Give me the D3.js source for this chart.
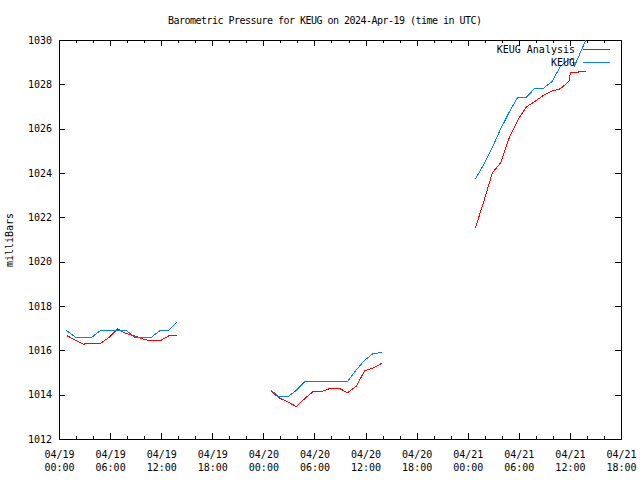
<!DOCTYPE html>
<html><head><meta charset="utf-8">
<script src="https://cdn.jsdelivr.net/npm/d3@7"></script>
<style>
body{margin:0;background:#fff}
svg{display:block;background:#fff}
text{font-family:"DejaVu Sans Mono",monospace;font-size:10px;fill:#000}
</style>
</head><body><svg id="c" width="640" height="480"></svg>
<script>
const title = "Barometric Pressure for KEUG on 2024-Apr-19 (time in UTC)";
const yLabel = "milliBars";
const seriesNames = ["KEUG Analysis", "KEUG"];
const seriesColors = ["#ff0000", "#0080ff"];

const yTicks = [1012, 1014, 1016, 1018, 1020, 1022, 1024, 1026, 1028, 1030];
const xTickTimes = ["2024-04-19T00:00Z","2024-04-19T06:00Z","2024-04-19T12:00Z","2024-04-19T18:00Z",
  "2024-04-20T00:00Z","2024-04-20T06:00Z","2024-04-20T12:00Z","2024-04-20T18:00Z",
  "2024-04-21T00:00Z","2024-04-21T06:00Z","2024-04-21T12:00Z","2024-04-21T18:00Z"];
const xTickDates = ["04/19","04/19","04/19","04/19","04/20","04/20","04/20","04/20","04/21","04/21","04/21","04/21"];
const xTickHours = ["00:00","06:00","12:00","18:00","00:00","06:00","12:00","18:00","00:00","06:00","12:00","18:00"];

// KEUG Analysis (red); null = gap between segments
const analysisTimes = [
  "2024-04-19T00:53Z","2024-04-19T01:53Z","2024-04-19T02:53Z","2024-04-19T03:53Z","2024-04-19T04:53Z","2024-04-19T05:53Z","2024-04-19T06:53Z",
  "2024-04-19T07:53Z","2024-04-19T08:53Z","2024-04-19T09:53Z","2024-04-19T10:53Z","2024-04-19T11:53Z","2024-04-19T12:53Z","2024-04-19T13:53Z",
  "2024-04-19T18:00Z",
  "2024-04-20T00:53Z","2024-04-20T01:53Z","2024-04-20T02:53Z","2024-04-20T03:53Z","2024-04-20T04:53Z","2024-04-20T05:53Z","2024-04-20T06:53Z",
  "2024-04-20T07:53Z","2024-04-20T08:53Z","2024-04-20T09:53Z","2024-04-20T10:53Z","2024-04-20T11:53Z","2024-04-20T12:53Z","2024-04-20T13:53Z",
  "2024-04-20T18:00Z",
  "2024-04-21T00:53Z","2024-04-21T01:53Z","2024-04-21T02:53Z","2024-04-21T03:53Z","2024-04-21T04:53Z","2024-04-21T05:53Z","2024-04-21T06:53Z",
  "2024-04-21T07:53Z","2024-04-21T08:53Z","2024-04-21T09:53Z","2024-04-21T10:53Z","2024-04-21T11:53Z","2024-04-21T12:05Z","2024-04-21T12:53Z","2024-04-21T13:53Z"];
const analysisValues = [
  1016.67,1016.47,1016.28,1016.33,1016.32,1016.58,1016.96,1016.76,1016.65,1016.51,1016.42,1016.43,1016.65,1016.65,
  null,
  1014.15,1013.85,1013.67,1013.46,1013.83,1014.15,1014.14,1014.29,1014.29,1014.09,1014.37,1015.07,1015.20,1015.41,
  null,
  1021.50,1022.71,1024.00,1024.47,1025.60,1026.39,1026.98,1027.23,1027.50,1027.70,1027.80,1028.13,1028.55,1028.55,1028.60];

// KEUG observations (blue)
const keugTimes = [
  "2024-04-19T00:53Z","2024-04-19T01:53Z","2024-04-19T02:53Z","2024-04-19T03:53Z","2024-04-19T04:53Z","2024-04-19T05:53Z","2024-04-19T06:53Z",
  "2024-04-19T07:53Z","2024-04-19T08:53Z","2024-04-19T09:53Z","2024-04-19T10:53Z","2024-04-19T11:53Z","2024-04-19T12:53Z","2024-04-19T13:53Z",
  "2024-04-19T18:00Z",
  "2024-04-20T00:53Z","2024-04-20T01:53Z","2024-04-20T02:53Z","2024-04-20T03:53Z","2024-04-20T04:53Z","2024-04-20T05:53Z","2024-04-20T06:53Z",
  "2024-04-20T07:53Z","2024-04-20T08:53Z","2024-04-20T09:53Z","2024-04-20T10:53Z","2024-04-20T11:53Z","2024-04-20T12:53Z","2024-04-20T13:53Z",
  "2024-04-20T18:00Z",
  "2024-04-21T00:53Z","2024-04-21T01:53Z","2024-04-21T02:53Z","2024-04-21T03:53Z","2024-04-21T04:53Z","2024-04-21T05:53Z","2024-04-21T06:53Z",
  "2024-04-21T07:53Z","2024-04-21T08:53Z","2024-04-21T09:53Z","2024-04-21T10:53Z","2024-04-21T11:53Z","2024-04-21T12:25Z","2024-04-21T12:30Z","2024-04-21T13:53Z"];
const keugValues = [
  1016.9,1016.6,1016.6,1016.6,1016.9,1016.9,1016.9,1016.9,1016.6,1016.6,1016.6,1016.9,1016.9,1017.3,
  null,
  1014.2,1013.9,1013.9,1014.2,1014.6,1014.6,1014.6,1014.6,1014.6,1014.6,1015.1,1015.55,1015.85,1015.9,
  null,
  1023.72,1024.39,1025.15,1026.0,1026.75,1027.42,1027.42,1027.82,1027.82,1028.12,1028.8,1029.14,1029.14,1028.8,1030.0];

const svg = d3.select("#c");
const L = 59, R = 621, T = 40, B = 439;
const x = d3.scaleUtc().domain([new Date(xTickTimes[0]), new Date(xTickTimes[xTickTimes.length-1])]).range([L, R]);
const y = d3.scaleLinear().domain([yTicks[0], yTicks[yTicks.length-1]]).range([B, T]);

svg.append("defs").append("clipPath").attr("id","clip")
  .append("rect").attr("x", L).attr("y", T).attr("width", R-L).attr("height", B-T);

const majorTicks = xTickTimes.map(s => new Date(s));
const minorTicks = d3.utcHour.every(2).range(x.domain()[0], x.domain()[1]).filter(d => d.getUTCHours() % 6 !== 0);

function styleAxis(g){ g.select(".domain").remove(); g.selectAll("line").attr("stroke","#000").attr("shape-rendering","crispEdges"); }

// left axis
svg.append("g").attr("transform",`translate(${L},0)`)
  .call(d3.axisLeft(y).tickValues(yTicks).tickSize(-6).tickPadding(7).tickFormat(d3.format("d")))
  .call(styleAxis).call(g => g.selectAll("text").attr("font-size",null).attr("font-family",null));
// right axis
svg.append("g").attr("transform",`translate(${R},0)`)
  .call(d3.axisRight(y).tickValues(yTicks).tickSize(-6).tickFormat(""))
  .call(styleAxis);
// bottom axis
const bottom = svg.append("g").attr("transform",`translate(0,${B})`)
  .call(d3.axisBottom(x).tickValues(majorTicks).tickSize(-6).tickPadding(10).tickFormat(""))
  .call(styleAxis);
bottom.selectAll(".tick").each(function(d, i){
  const t = d3.select(this).append("text").attr("text-anchor","middle").attr("fill","#000");
  t.append("tspan").attr("x",0).attr("y",19).text(xTickDates[i]);
  t.append("tspan").attr("x",0).attr("y",32).text(xTickHours[i]);
});
svg.append("g").attr("transform",`translate(0,${B})`)
  .call(d3.axisBottom(x).tickValues(minorTicks).tickSize(-3).tickFormat(""))
  .call(styleAxis);
// top axis
svg.append("g").attr("transform",`translate(0,${T})`)
  .call(d3.axisTop(x).tickValues(majorTicks).tickSize(-6).tickFormat(""))
  .call(styleAxis);
svg.append("g").attr("transform",`translate(0,${T})`)
  .call(d3.axisTop(x).tickValues(minorTicks).tickSize(-3).tickFormat(""))
  .call(styleAxis);

// frame
svg.append("rect").attr("x", L).attr("y", T).attr("width", R-L).attr("height", B-T)
  .attr("fill","none").attr("stroke","#000").attr("shape-rendering","crispEdges");

// series
const series = [
  {name: seriesNames[0], color: seriesColors[0], data: analysisTimes.map((t,i)=>({t:new Date(t), v:analysisValues[i]}))},
  {name: seriesNames[1], color: seriesColors[1], data: keugTimes.map((t,i)=>({t:new Date(t), v:keugValues[i]}))}
];
const line = d3.line().defined(d => d.v != null).x(d => x(d.t)).y(d => y(d.v));
const plot = svg.append("g").attr("clip-path","url(#clip)");
series.forEach(s => {
  plot.append("path").datum(s.data).attr("d", line)
    .attr("fill","none").attr("stroke", s.color).attr("stroke-width",1)
    .attr("shape-rendering","crispEdges");
});

// legend
series.forEach((s, i) => {
  const ly = 49 + i*13;
  svg.append("text").attr("x", 575).attr("y", ly+4).attr("text-anchor","end").text(s.name);
  svg.append("line").attr("x1",583).attr("x2",610).attr("y1",ly).attr("y2",ly)
    .attr("stroke", s.color).attr("shape-rendering","crispEdges");
});

// title and y label
svg.append("text").attr("x", 325).attr("y", 24).attr("text-anchor","middle")
  .attr("textLength", 314).attr("lengthAdjust","spacing").text(title);
svg.append("text").attr("transform","translate(13,240) rotate(-90)").attr("text-anchor","middle").text(yLabel);
</script>
</body></html>
